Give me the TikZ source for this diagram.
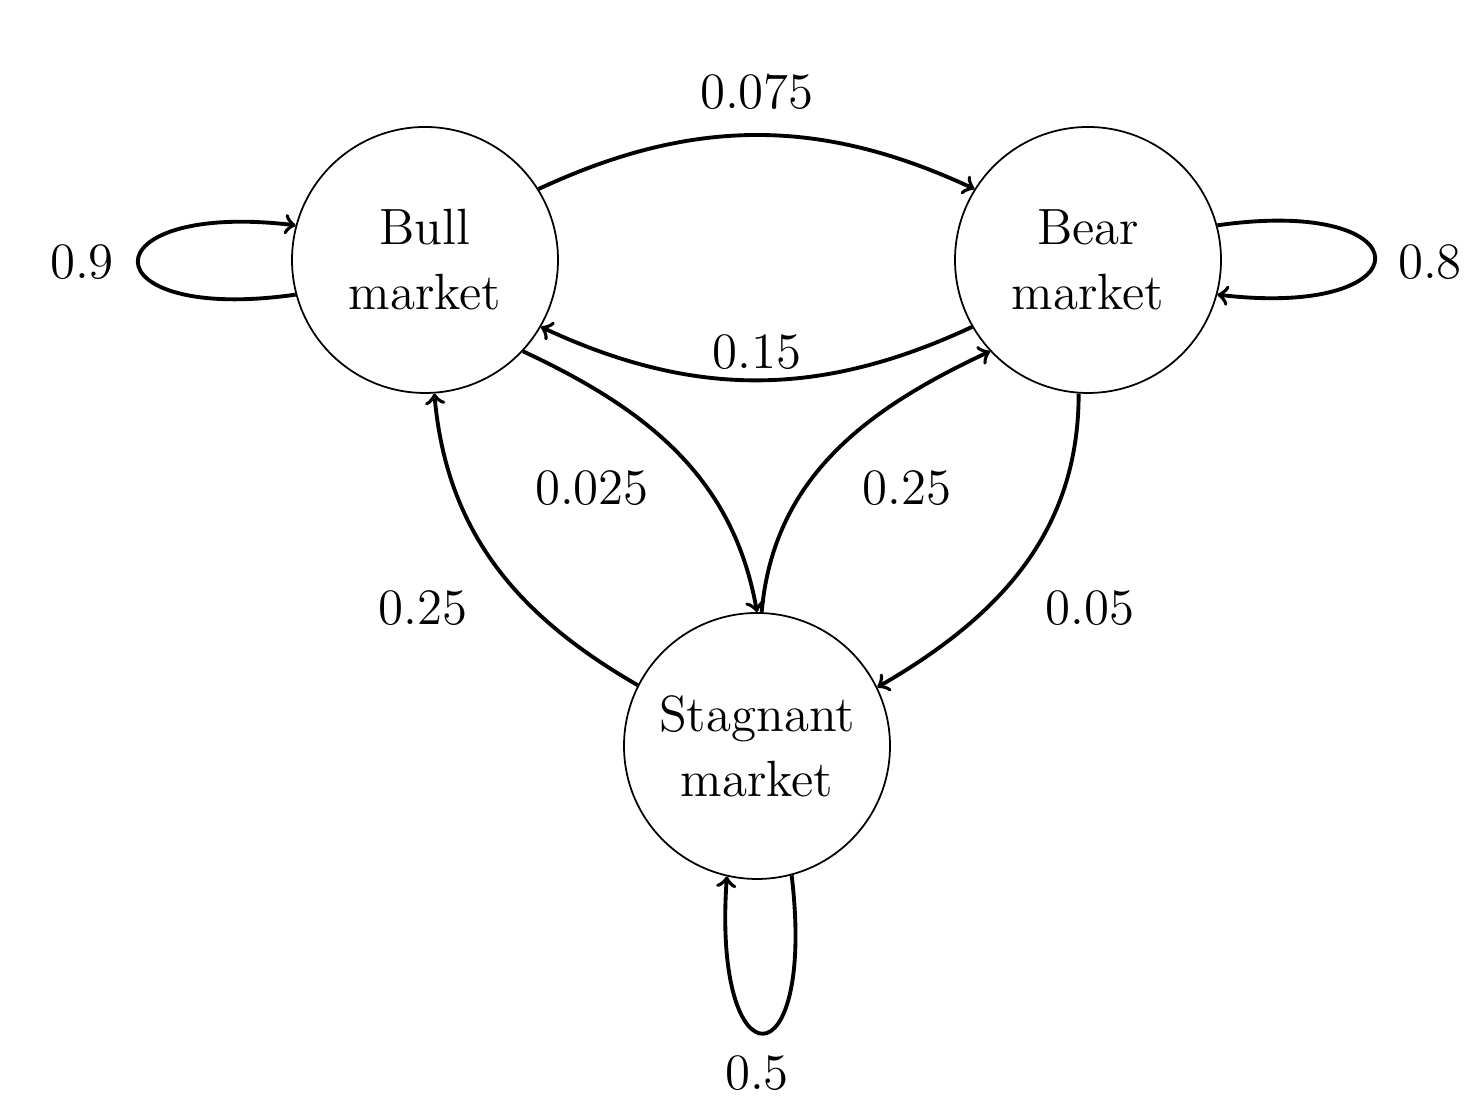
\documentclass[tikz,border=0pt]{standalone}
\begin{document}
\begin{tikzpicture}[
  st/.style={circle,draw,line width=0.5pt,minimum size=2.66cm,inner sep=0pt,align=center,font=\fontsize{14.5}{18.5}\selectfont},
  lab/.style={font=\fontsize{14.5}{18}\selectfont,inner sep=0pt},
  ed/.style={->,line width=1.1pt}]
\useasboundingbox (0,0) rectangle (14.72,10.98);
\node[st] (bull) at (4.25,8.38) {Bull\\market};
\node[st] (bear) at (10.88,8.38) {Bear\\market};
\node[st] (stag) at (7.57,3.52) {Stagnant\\market};
\draw[ed] (bull.32) to[bend left=25] (bear.148);
\draw[ed] (bear.210) to[bend left=25] (bull.-30);
\draw[ed] (bull.-43) to[out=-25,in=100] (stag.90);
\draw[ed] (stag.88) to[out=85,in=205] (bear.223);
\draw[ed] (stag.153) to[out=150,in=-85] (bull.-86);
\draw[ed] (bear.-94) to[out=-90,in=30] (stag.26);
\draw[ed] (bull.195) .. controls +(-2.1,-0.3) and +(-2.1,0.25) .. (bull.165);
\draw[ed] (bear.15) .. controls +(2.1,0.3) and +(2.1,-0.25) .. (bear.-15);
\draw[ed] (stag.-75) .. controls +(0.25,-2.1) and +(-0.15,-2.1) .. (stag.-103);
\node[lab] (l1) at (7.57,10.06) {0.075};
\node[lab] (l2) at (7.57,7.46) {0.15};
\node[lab] (l3) at (5.92,6.1) {0.025};
\node[lab] (l4) at (9.07,6.1) {0.25};
\node[lab] (l5) at (4.23,4.9) {0.25};
\node[lab] (l6) at (10.9,4.9) {0.05};
\node[lab] (l7) at (0.82,8.36) {0.9};
\node[lab] (l8) at (14.3,8.36) {0.8};
\node[lab] (l9) at (7.57,0.25) {0.5};
\end{tikzpicture}
\end{document}
